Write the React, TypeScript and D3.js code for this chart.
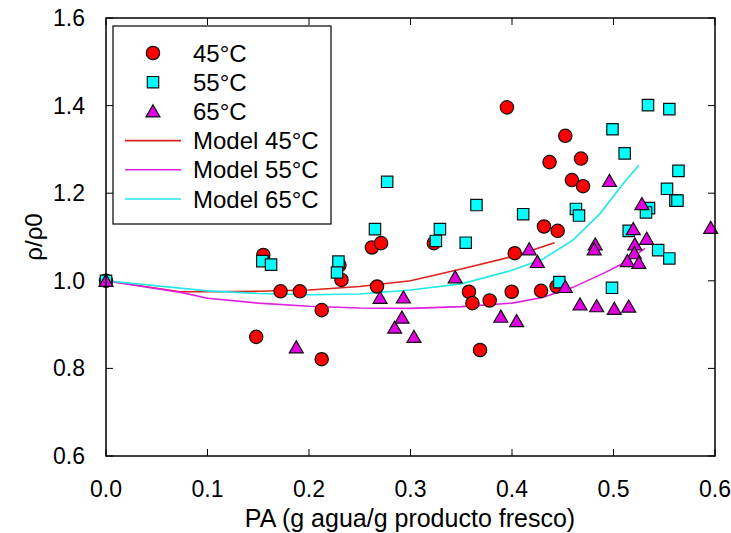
import React, { useEffect, useRef } from 'react'
import * as d3 from 'd3'

// measured points [PA, rho/rho0]
const data45 = [
  [0, 1.0], [0.148, 0.872], [0.155, 1.059], [0.172, 0.976], [0.191, 0.976],
  [0.2125, 0.933], [0.2125, 0.821], [0.23, 1.036], [0.232, 1.002], [0.267, 0.987],
  [0.262, 1.076], [0.271, 1.086], [0.323, 1.086], [0.395, 1.396], [0.4525, 1.331],
  [0.437, 1.271], [0.468, 1.279], [0.459, 1.23], [0.47, 1.216], [0.4315, 1.124],
  [0.445, 1.114], [0.4027, 1.063], [0.3576, 0.975], [0.361, 0.949], [0.378, 0.955],
  [0.3997, 0.975], [0.4286, 0.977], [0.444, 0.987], [0.3685, 0.842],
]

const data55 = [
  [0, 1.0], [0.154, 1.045], [0.1626, 1.037], [0.229, 1.044], [0.2276, 1.019],
  [0.265, 1.118], [0.277, 1.226], [0.329, 1.118], [0.325, 1.091], [0.3544, 1.087],
  [0.365, 1.173], [0.411, 1.152], [0.4466, 0.997], [0.463, 1.164], [0.466, 1.149],
  [0.499, 1.346], [0.4985, 0.984], [0.534, 1.401], [0.555, 1.392], [0.511, 1.291],
  [0.564, 1.251], [0.5527, 1.21], [0.561, 1.183], [0.563, 1.183], [0.535, 1.166],
  [0.532, 1.156], [0.515, 1.114], [0.544, 1.07], [0.555, 1.051],
]

const data65 = [
  [0, 1.0], [0.1875, 0.848], [0.27, 0.961], [0.293, 0.962], [0.2916, 0.916],
  [0.2844, 0.893], [0.3034, 0.872], [0.344, 1.008], [0.389, 0.918], [0.4046, 0.908],
  [0.417, 1.072], [0.425, 1.043], [0.4525, 0.986], [0.467, 0.946], [0.4834, 0.942],
  [0.5008, 0.936], [0.515, 0.941], [0.482, 1.083], [0.481, 1.072], [0.496, 1.228],
  [0.528, 1.175], [0.5195, 1.118], [0.5327, 1.096], [0.521, 1.083], [0.5205, 1.063],
  [0.5136, 1.045], [0.525, 1.041], [0.5958, 1.121],
]

// model curves
const model45 = [
  [0, 1.0], [0.073, 0.975], [0.1, 0.975], [0.15, 0.976], [0.2, 0.979], [0.25, 0.987],
  [0.3, 1.0], [0.35, 1.027], [0.4, 1.055], [0.442, 1.087],
]
const model55 = [
  [0, 1.0], [0.075, 0.973], [0.1, 0.96], [0.15, 0.949], [0.2, 0.942], [0.25, 0.938],
  [0.3, 0.937], [0.35, 0.941], [0.4, 0.949], [0.43, 0.962], [0.46, 0.985],
  [0.49, 1.017], [0.513, 1.044], [0.531, 1.074],
]
const model65 = [
  [0, 1.0], [0.1, 0.977], [0.15, 0.971], [0.2, 0.968], [0.25, 0.97], [0.3, 0.979],
  [0.35, 0.993], [0.4, 1.024], [0.43, 1.049], [0.46, 1.093], [0.487, 1.154],
  [0.51, 1.223], [0.525, 1.264],
]

const xTicks = [0, 0.1, 0.2, 0.3, 0.4, 0.5, 0.6]
const yTicks = [0.6, 0.8, 1.0, 1.2, 1.4, 1.6]

const font = 'Arial, "Liberation Sans", sans-serif'

function App() {
  const ref = useRef(null)

  useEffect(() => {
    const width = 731
    const height = 533
    const left = 106, right = 715, top = 18, bottom = 456

    const x = d3.scaleLinear().domain([0, 0.6]).range([left, right])
    const y = d3.scaleLinear().domain([0.6, 1.6]).range([bottom, top])

    const svg = d3.select(ref.current)
    svg.selectAll('*').remove()
    svg.attr('width', width).attr('height', height)

    svg.append('rect').attr('width', width).attr('height', height).attr('fill', 'white')

    // ticks (inside, on all sides)
    const tl = 7
    const ticks = svg.append('g').attr('stroke', 'black').attr('stroke-width', 1)
    xTicks.forEach(t => {
      ticks.append('line').attr('x1', x(t)).attr('x2', x(t)).attr('y1', bottom).attr('y2', bottom - tl)
      ticks.append('line').attr('x1', x(t)).attr('x2', x(t)).attr('y1', top).attr('y2', top + tl)
    })
    yTicks.forEach(t => {
      ticks.append('line').attr('x1', left).attr('x2', left + tl).attr('y1', y(t)).attr('y2', y(t))
      ticks.append('line').attr('x1', right).attr('x2', right - tl).attr('y1', y(t)).attr('y2', y(t))
    })

    svg.append('g').selectAll('text').data(xTicks).join('text')
      .attr('x', d => x(d)).attr('y', bottom + 41)
      .attr('text-anchor', 'middle')
      .attr('font-family', font).attr('font-size', 23)
      .text(d => d.toFixed(1))

    svg.append('g').selectAll('text').data(yTicks).join('text')
      .attr('x', left - 21).attr('y', d => y(d) + 8)
      .attr('text-anchor', 'end')
      .attr('font-family', font).attr('font-size', 23)
      .text(d => d.toFixed(1))

    svg.append('text')
      .attr('x', 410).attr('y', 527)
      .attr('text-anchor', 'middle')
      .attr('font-family', font).attr('font-size', 25)
      .text('PA (g agua/g producto fresco)')

    svg.append('text')
      .attr('transform', `translate(42,${(top + bottom) / 2}) rotate(-90)`)
      .attr('text-anchor', 'middle')
      .attr('font-family', font).attr('font-size', 24)
      .text('ρ/ρ0')

    // model lines
    const line = d3.line().x(d => x(d[0])).y(d => y(d[1]))
    const models = [
      { d: model45, c: '#e0201c' },
      { d: model55, c: '#e020e0' },
      { d: model65, c: '#20e8e8' },
    ]
    models.forEach(m => {
      svg.append('path').datum(m.d)
        .attr('fill', 'none').attr('stroke', m.c).attr('stroke-width', 1.6)
        .attr('d', line)
    })

    const circle = d3.symbol().type(d3.symbolCircle).size(140)
    const square = d3.symbol().type(d3.symbolSquare).size(130)
    const tri = d3.symbol().type(d3.symbolTriangle).size(85)

    const drawPts = (pts, sym, fill, dy = 0) => {
      svg.append('g').selectAll('path').data(pts).join('path')
        .attr('transform', d => `translate(${x(d[0])},${y(d[1]) + dy})`)
        .attr('d', sym)
        .attr('fill', fill).attr('stroke', '#111').attr('stroke-width', 1.2)
    }
    drawPts(data45, circle, '#ff0000')
    drawPts(data55, square, '#00ffff')
    drawPts(data65, tri, '#e000e0', 1.5)

    // frame
    svg.append('rect')
      .attr('x', left).attr('y', top).attr('width', right - left).attr('height', bottom - top)
      .attr('fill', 'none').attr('stroke', 'black').attr('stroke-width', 1.5)

    // legend
    const lg = svg.append('g')
    lg.append('rect').attr('x', 113).attr('y', 26).attr('width', 218).attr('height', 198)
      .attr('fill', 'white').attr('stroke', 'black').attr('stroke-width', 1.2)
    const entries = [
      { label: '45°C', kind: 'pt', sym: circle, fill: '#ff0000' },
      { label: '55°C', kind: 'pt', sym: square, fill: '#00ffff' },
      { label: '65°C', kind: 'pt', sym: tri, fill: '#e000e0' },
      { label: 'Model 45°C', kind: 'ln', fill: '#e0201c' },
      { label: 'Model 55°C', kind: 'ln', fill: '#e020e0' },
      { label: 'Model 65°C', kind: 'ln', fill: '#20e8e8' },
    ]
    entries.forEach((e, i) => {
      const yy = 53 + i * 29.2
      if (e.kind === 'pt') {
        lg.append('path').attr('transform', `translate(153,${yy + (i === 2 ? 1.5 : 0)})`)
          .attr('d', e.sym).attr('fill', e.fill).attr('stroke', '#111').attr('stroke-width', 1.2)
      } else {
        lg.append('line').attr('x1', 125).attr('x2', 181).attr('y1', yy).attr('y2', yy)
          .attr('stroke', e.fill).attr('stroke-width', 1.6)
      }
      lg.append('text').attr('x', 193).attr('y', yy + 8.5)
        .attr('font-family', font).attr('font-size', 24)
        .text(e.label)
    })
  }, [])

  return (
    <div style={{ position: 'absolute', left: 0, top: 0 }}>
      <svg ref={ref} style={{ display: 'block' }}></svg>
    </div>
  )
}

export default App
